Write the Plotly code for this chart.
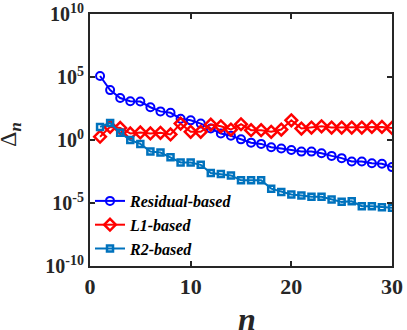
import plotly.graph_objects as go

n = list(range(1, 31))
residual_log = [5.08, 3.96, 3.33, 3.07, 3.05, 2.6, 2.27, 2.16, 1.69, 1.56,
                1.3, 0.91, 0.52, 0.34, 0.05, -0.21, -0.31, -0.58, -0.68, -0.79,
                -0.92, -0.92, -1.05, -1.26, -1.44, -1.7, -1.7, -1.84, -1.89, -2.15]
l1_log = [0.26, 1.04, 0.96, 0.52, 0.6, 0.52, 0.57, 0.44, 1.3, 0.65,
          0.65, 1.22, 1.09, 0.83, 1.25, 0.78, 0.78, 0.65, 0.83, 1.56,
          0.91, 0.99, 1.09, 0.99, 0.99, 0.99, 0.99, 1.04, 1.04, 0.96]
r2_log = [1.04, 1.35, 0.57, 0.0, -0.31, -0.92, -1.0, -1.36, -1.78, -1.78,
          -1.97, -2.62, -2.7, -2.81, -3.2, -3.2, -3.2, -3.86, -4.12, -4.33,
          -4.41, -4.51, -4.51, -4.72, -4.91, -4.86, -5.25, -5.25, -5.33, -5.38]
residual = [10 ** v for v in residual_log]
l1 = [10 ** v for v in l1_log]
r2 = [10 ** v for v in r2_log]

ytick_vals = [1e-10, 1e-5, 1e0, 1e5, 1e10]
ytick_text = ["<b>10<sup>-10</sup></b>", "<b>10<sup>-5</sup></b>", "<b>10<sup>0</sup></b>",
              "<b>10<sup>5</sup></b>", "<b>10<sup>10</sup></b>"]
xtick_vals = [0, 10, 20, 30]
xtick_text = ["<b>0</b>", "<b>10</b>", "<b>20</b>", "<b>30</b>"]

FONT = "Liberation Serif"
AX = "#262626"

fig = go.Figure()
fig.add_trace(go.Scatter(
    x=n, y=residual, mode="lines+markers", name="<b><i>Residual-based</i></b>",
    line=dict(color="#0000FF", width=2),
    marker=dict(symbol="circle-open", size=8, color="#0000FF", line=dict(width=2))))
fig.add_trace(go.Scatter(
    x=n, y=l1, mode="lines+markers", name="<b><i>L1-based</i></b>",
    line=dict(color="#FF0000", width=2),
    marker=dict(symbol="diamond-open", size=9, color="#FF0000", line=dict(width=2.5))))
fig.add_trace(go.Scatter(
    x=n, y=r2, mode="lines+markers", name="<b><i>R2-based</i></b>",
    line=dict(color="#0072BD", width=2),
    marker=dict(symbol="square-open", size=6, color="#0072BD", line=dict(width=2.5))))

fig.update_layout(
    template="none",
    width=407, height=330,
    margin=dict(l=90, r=15, t=14, b=64),
    paper_bgcolor="white", plot_bgcolor="white",
    showlegend=True,
    legend=dict(x=0.0, y=0.0, xanchor="left", yanchor="bottom",
                bgcolor="rgba(0,0,0,0)", borderwidth=0,
                font=dict(family=FONT, size=16, color="#000000")),
    annotations=[
        dict(text="<b><i>n</i></b>", xref="paper", yref="paper", x=0.52, y=-0.21,
             xanchor="center", yanchor="middle", showarrow=False,
             font=dict(family=FONT, size=32, color=AX)),
        dict(text="Δ<sub><i><b>n</b></i></sub>", xref="paper", yref="paper", x=-0.265, y=0.524,
             xanchor="center", yanchor="middle", showarrow=False, textangle=-90,
             font=dict(family=FONT, size=24, color=AX)),
    ],
)
fig.update_xaxes(range=[0, 30], tickvals=xtick_vals, ticktext=xtick_text,
                 ticks="inside", ticklen=5, tickwidth=2, tickcolor=AX,
                 showline=True, linecolor=AX, linewidth=2, mirror="ticks",
                 showgrid=False, zeroline=False,
                 tickfont=dict(family=FONT, size=22, color=AX))
fig.update_yaxes(type="log", range=[-10, 10], tickvals=ytick_vals, ticktext=ytick_text,
                 ticks="inside", ticklen=5, tickwidth=2, tickcolor=AX,
                 showline=True, linecolor=AX, linewidth=2, mirror="ticks",
                 showgrid=False, zeroline=False,
                 tickfont=dict(family=FONT, size=20, color=AX))

fig.write_html("out.html", config={"displayModeBar": False},
               post_script="document.body.style.margin='0px';document.body.style.overflow='hidden';")
